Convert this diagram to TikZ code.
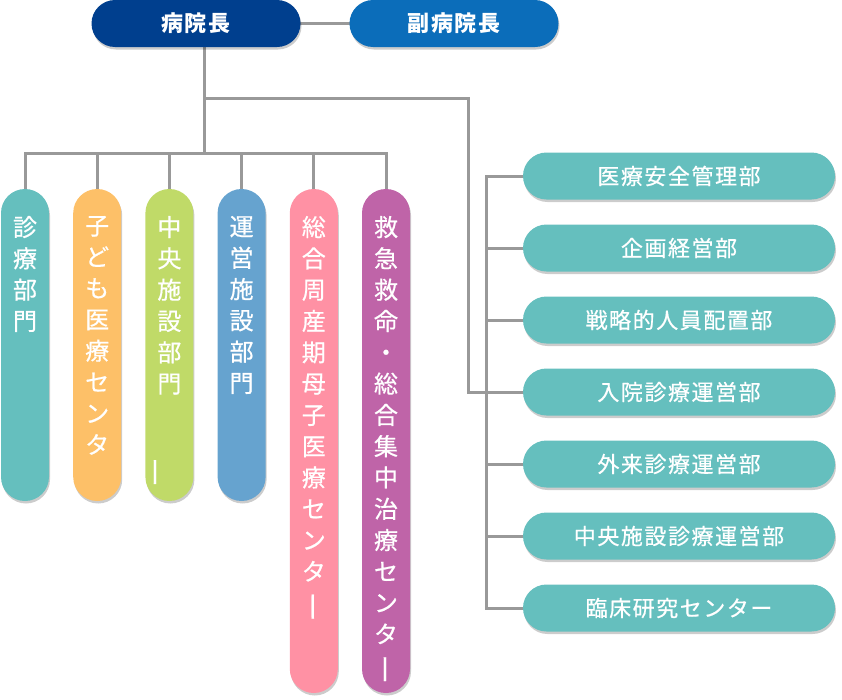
\documentclass[tikz,border=0pt]{standalone}
\usepackage{fontspec}
\setmainfont{Noto Sans CJK JP}
\usepackage{graphicx}
\usetikzlibrary{shadows,backgrounds}

\definecolor{chiefblue}{HTML}{003F8E}
\definecolor{viceblue}{HTML}{0B6DBA}
\definecolor{deptteal}{HTML}{65BFBE}
\definecolor{colorange}{HTML}{FDC068}
\definecolor{colgreen}{HTML}{C0DA68}
\definecolor{colblue}{HTML}{66A3CF}
\definecolor{colpink}{HTML}{FF91A4}
\definecolor{colpurple}{HTML}{BF64A8}
\definecolor{linegray}{HTML}{999999}

\newcommand{\tatebar}{\hspace*{6pt}\rotatebox[origin=c]{90}{\scalebox{1.25}[1]{ー}}}

\tikzset{
  link/.style={draw=linegray, line width=3pt, line cap=rect},
  softshadow/.style={drop shadow={shadow xshift=1pt, shadow yshift=-2.5pt, opacity=0.2, fill=black}},
  topbox/.style={rectangle, rounded corners=23.5pt, minimum width=209pt, minimum height=47pt,
    text=white, softshadow, font=\fontsize{22}{22}\selectfont\bfseries\addfontfeature{LetterSpace=8}},
  colbox/.style={rectangle, rounded corners=24pt, minimum width=48pt, softshadow},
  coltext/.style={text=white, align=center, inner sep=0pt, anchor=north,
    font=\fontsize{24}{31.3}\selectfont\addfontfeature{FakeBold=0.6}},
  deptbox/.style={rectangle, rounded corners=23.5pt, minimum width=312pt, minimum height=47pt,
    fill=deptteal, text=white, softshadow,
    font=\fontsize{22}{22}\selectfont\addfontfeature{LetterSpace=7,FakeBold=0.6}}
}

\begin{document}
\begin{tikzpicture}[x=1pt, y=-1pt]
    \useasboundingbox (0,0) rectangle (842,699);

    \node[topbox, fill=chiefblue] (chief) at (196,23.5) {病院長};
    \node[topbox, fill=viceblue] (vice) at (454,23.5) {副病院長};

    % vertical columns
    \node[colbox, fill=deptteal, minimum height=312pt] (c1) at (25,345) {};
    \node[colbox, fill=colorange, minimum height=312pt] (c2) at (97.2,345) {};
    \node[colbox, fill=colgreen, minimum height=312pt] (c3) at (169.4,345) {};
    \node[colbox, fill=colblue, minimum height=312pt] (c4) at (241.6,345) {};
    \node[colbox, fill=colpink, minimum height=504pt] (c5) at (313.8,441) {};
    \node[colbox, fill=colpurple, minimum height=504pt] (c6) at (386,441) {};

    \node[coltext] (t1) at ([yshift=-27pt]c1.north) {診\\療\\部\\門};
    \node[coltext] (t2) at ([yshift=-27pt]c2.north) {子\\ど\\も\\医\\療\\セ\\ン\\タ};
    \node[coltext] (t3) at ([yshift=-27pt]c3.north) {中\\央\\施\\設\\部\\門};
    \node[coltext, anchor=center] (t3bar) at (156,472) {\tatebar};
    \node[coltext] (t4) at ([yshift=-27pt]c4.north) {運\\営\\施\\設\\部\\門};
    \node[coltext] (t5) at ([yshift=-27pt]c5.north) {総\\合\\周\\産\\期\\母\\子\\医\\療\\セ\\ン\\タ\\\tatebar};
    \node[coltext] (t6) at ([yshift=-27pt]c6.north) {救\\急\\救\\命\\・\\総\\合\\集\\中\\治\\療\\セ\\ン\\タ\\\tatebar};

    % departments on the right
    \node[deptbox] (d1) at (679,176) {医療安全管理部};
    \node[deptbox] (d2) at (679,248) {企画経営部};
    \node[deptbox] (d3) at (679,320) {戦略的人員配置部};
    \node[deptbox] (d4) at (679,392) {入院診療運営部};
    \node[deptbox] (d5) at (679,464) {外来診療運営部};
    \node[deptbox] (d6) at (679,536) {中央施設診療運営部};
    \node[deptbox] (d7) at (679,608) {臨床研究センター};

    \coordinate (hub) at (204,98);
    \coordinate (colbar) at (204,153);
    \coordinate (riser) at (468,98);
    \coordinate (spine) at (486,176);

    \begin{scope}[on background layer]
    \draw[link] (chief) -- (vice);
    \draw[link] (hub |- chief.south) -- (colbar);
    \draw[link] (hub) -- (riser) |- (d4.west);
    \draw[link] (c1.north |- colbar) -- (c6.north |- colbar);
    \foreach \i in {1,...,6}
        \draw[link] (c\i.north |- colbar) -- (c\i.north);
    \draw[link] (spine |- d1.west) -- (spine |- d7.west);
    \foreach \i in {1,...,7}
        \draw[link] (spine |- d\i.west) -- (d\i.west);
    \end{scope}
\end{tikzpicture}
\end{document}
